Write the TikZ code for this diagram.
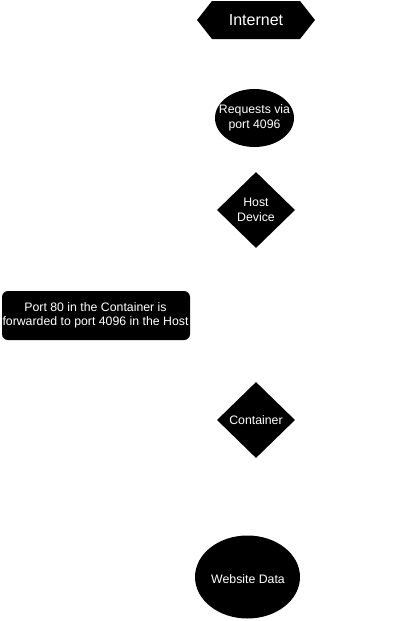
\documentclass[tikz,border=0pt]{standalone}
\usepackage{fontspec}
\setmainfont{Liberation Sans}
\usetikzlibrary{shapes.geometric}
\begin{document}
\begin{tikzpicture}[x=1pt,y=-1pt,
  blk/.style={fill=black,inner sep=0pt},
  txt/.style={text=white,inner sep=0pt,font=\fontsize{12.3}{14.5}\selectfont,align=center},
  ell/.style={blk,ellipse},
  dia/.style={blk,diamond,minimum width=78pt,minimum height=76pt},
  rbox/.style={blk,rectangle,rounded corners=6pt,minimum width=188pt,minimum height=49pt}]
\useasboundingbox (0,0) rectangle (419,621);
\fill[black] (197,20) -- (212,1) -- (300,1) -- (315,20) -- (300,39) -- (212,39) -- cycle;
\node[text=white,font=\fontsize{16}{18}\selectfont] (internet) at (256,20) {Internet};
\node[ell,minimum width=79pt,minimum height=58pt] (req) at (254.5,118) {};
\node[txt] (reqt) at (req) {Requests via\\port 4096};
\node[dia] (host) at (256,210) {};
\node[txt] (hostt) at (host) {Host\\Device};
\node[rbox] (port) at (96,315.5) {};
\node[txt] (portt) at (95.5,315.5) {Port 80 in the Container is\\forwarded to port 4096 in the Host};
\node[dia] (cont) at (256,420) {};
\node[txt] (contt) at (cont) {Container};
\node[ell,minimum width=105pt,minimum height=83pt] (web) at (247.5,577) {};
\node[txt] (webt) at (248,579) {Website Data};
\end{tikzpicture}
\end{document}
